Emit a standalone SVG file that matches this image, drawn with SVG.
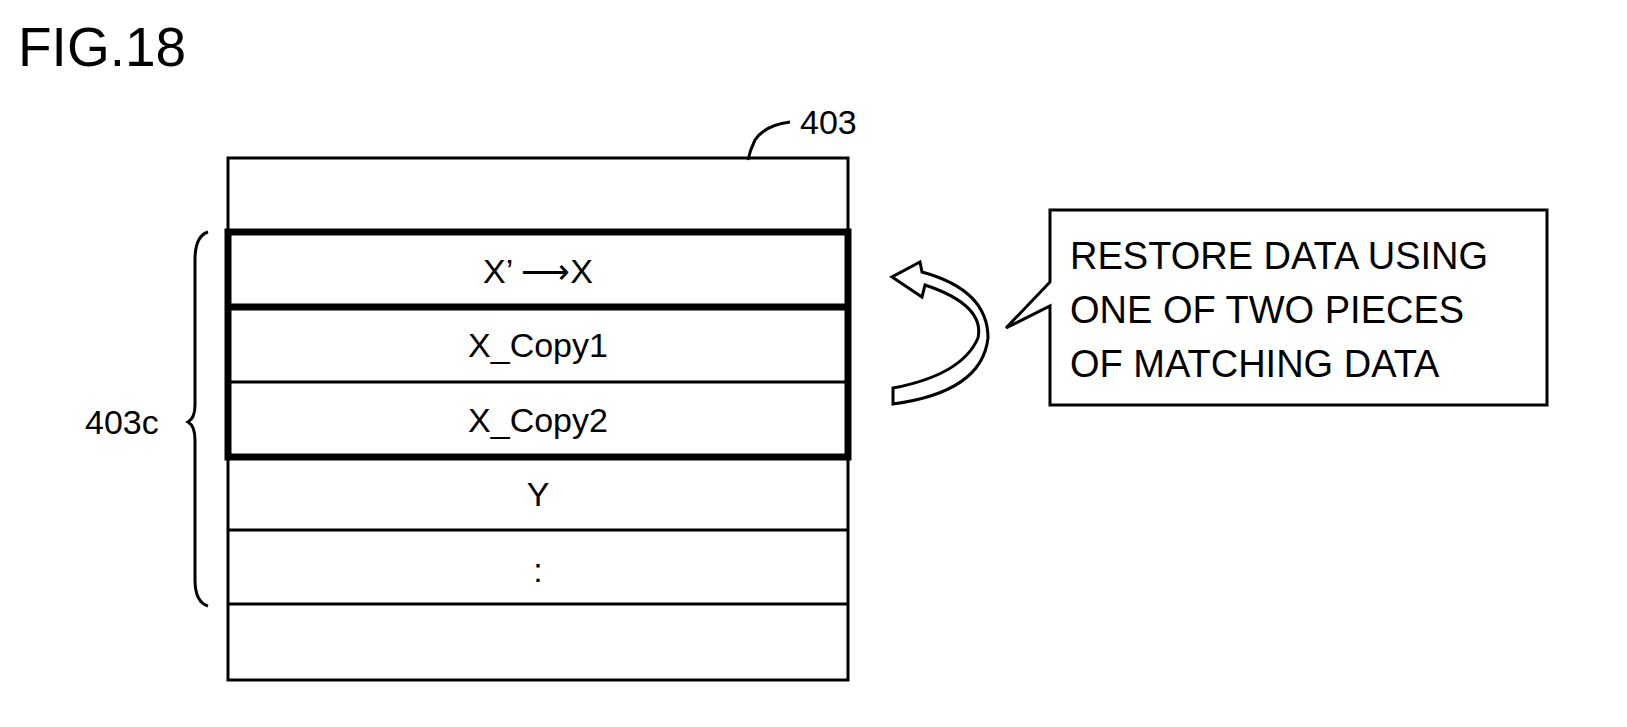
<svg xmlns="http://www.w3.org/2000/svg" width="1627" height="727" viewBox="0 0 1627 727">
<style>
text{font-family:"Liberation Sans",Arial,sans-serif;fill:#000}
.c{font-size:34px;text-anchor:middle}
.t{font-size:38px}
.ln{stroke:#000;stroke-width:3;fill:none}
.th{stroke:#000;stroke-width:7;fill:none}
</style>
<rect width="1627" height="727" fill="#fff"/>
<text x="18" y="66" style="font-size:55px">FIG.18</text>
<g id="memory403">
<rect class="ln" x="228" y="158" width="620" height="522"/>
<line class="ln" x1="228" y1="382" x2="848" y2="382"/>
<line class="ln" x1="228" y1="530" x2="848" y2="530"/>
<line class="ln" x1="228" y1="604" x2="848" y2="604"/>
<rect class="th" x="228" y="232" width="620" height="225"/>
<line class="th" x1="228" y1="307" x2="848" y2="307"/>
<text class="c" x="538" y="283">X’ ⟶X</text>
<text class="c" x="538" y="357">X_Copy1</text>
<text class="c" x="538" y="432">X_Copy2</text>
<text class="c" x="538" y="506">Y</text>
<text class="c" x="538" y="582">:</text>
<path class="ln" stroke-width="2" d="M790,122 Q765,125 755,140 Q750,150 748,160"/>
<text x="800" y="134" style="font-size:34px">403</text>
</g>
<g id="brace403c">
<path class="ln" stroke-width="2" d="M208,232 Q195,236 195,260 L195,405 Q195,418 188,422 Q195,426 195,440 L195,580 Q195,602 208,606"/>
<text x="85" y="434" style="font-size:34px">403c</text>
</g>
<g id="connectors">
<path class="ln" stroke-width="3" fill="#fff" d="M893,388 Q962,375 978,338 Q985,305 925,285 L922,297 L892,277 L920,262 L922,272 Q988,290 988,338 Q982,392 893,404 Z"/>
</g>
<g id="callout">
<path class="ln" fill="#fff" d="M1050,210 L1547,210 L1547,405 L1050,405 L1050,306 L1006,328 L1050,282 Z"/>
<text class="t" x="1070" y="269">RESTORE DATA USING</text>
<text class="t" x="1070" y="323">ONE OF TWO PIECES</text>
<text class="t" x="1070" y="377">OF MATCHING DATA</text>
</g>
</svg>
